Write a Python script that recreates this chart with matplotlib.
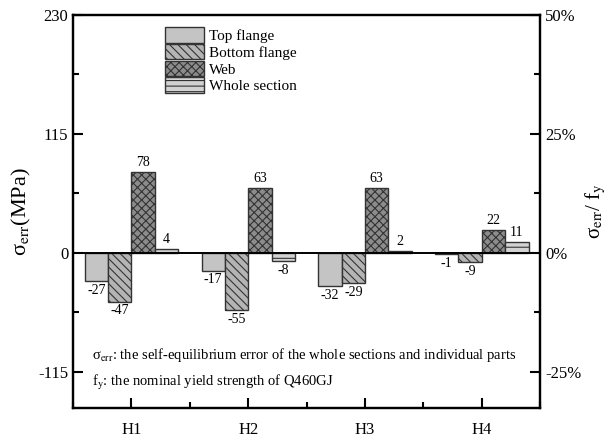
import numpy as np
import matplotlib
matplotlib.use('Agg')
import matplotlib.pyplot as plt
from matplotlib.ticker import FuncFormatter, MultipleLocator

plt.rcParams['font.family'] = ['Liberation Serif', 'DejaVu Serif']
plt.rcParams['mathtext.fontset'] = 'stix'
plt.rcParams['hatch.linewidth'] = 0.8
plt.rcParams['axes.unicode_minus'] = False

# data
groups = ['H1', 'H2', 'H3', 'H4']
series = ['Top flange', 'Bottom flange', 'Web', 'Whole section']
top_flange = [-27, -17, -32, -1]
bottom_flange = [-47, -55, -29, -9]
web = [78, 63, 63, 22]
whole_section = [4, -8, 2, 11]
fy = 460.0

values = [top_flange, bottom_flange, web, whole_section]
faces = ['#c4c4c4', '#b4b4b4', '#8c8c8c', '#d2d2d2']
hatches = [None, '\\\\\\\\', 'xxxx', '---']

fig = plt.figure(figsize=(6.09, 4.37), dpi=100)
ax = fig.add_axes([0.12, 0.066, 0.767, 0.900])

x = np.arange(1, len(groups) + 1)
w = 0.2
for i in range(len(series)):
    pos = x + (i - 1.5) * w
    ax.bar(pos, values[i], w, color=faces[i], edgecolor='#333333',
           hatch=hatches[i], linewidth=1.0, label=series[i])
    for p, v in zip(pos, values[i]):
        if v >= 0:
            ax.annotate(str(v), (p, v), xytext=(0, 2), textcoords='offset points',
                        ha='center', va='bottom', fontsize=10)
        else:
            ax.annotate(str(v), (p, v), xytext=(0, -2), textcoords='offset points',
                        ha='center', va='top', fontsize=10)

ax.axhline(0, color='black', linewidth=1.4, zorder=3)

ax.set_xlim(0.5, 4.5)
ax.set_ylim(-150, 230)
ax.set_xticks(x)
ax.set_xticklabels(groups)
ax.xaxis.set_minor_locator(MultipleLocator(0.5))
ax.set_yticks([-115, 0, 115, 230])
ax.yaxis.set_minor_locator(MultipleLocator(57.5))
ax.tick_params(which='both', direction='in', labelsize=12, width=1.5, top=False)
ax.tick_params(which='major', length=7)
ax.tick_params(which='minor', length=4)
ax.tick_params(axis='x', pad=10)
ax.set_ylabel('σ$_{\\rm err}$(MPa)', fontsize=16)
for s in ax.spines.values():
    s.set_linewidth(1.6)

ax2 = ax.twinx()
ax2.set_ylim(-150 / fy * 100, 230 / fy * 100)
ax2.set_yticks([-25, 0, 25, 50])
ax2.yaxis.set_minor_locator(MultipleLocator(12.5))
ax2.yaxis.set_major_formatter(FuncFormatter(lambda v, p: '%d%%' % v))
ax2.tick_params(which='both', direction='in', labelsize=12, width=1.5)
ax2.tick_params(which='major', length=7)
ax2.tick_params(which='minor', length=4)
ax2.set_ylabel('σ$_{\\rm err}$/ f$_{\\rm y}$', fontsize=15, labelpad=2)
for s in ax2.spines.values():
    s.set_linewidth(1.6)

ax.legend(loc='upper left', bbox_to_anchor=(0.17, 1.0), frameon=False,
          fontsize=11, handlelength=2.6, handleheight=1.2,
          labelspacing=0.05, handletextpad=0.3, borderpad=0.3)

ax.text(0.04, 0.135, 'σ$_{\\rm err}$: the self-equilibrium error of the whole sections and individual parts',
        transform=ax.transAxes, fontsize=10.5, va='center')
ax.text(0.04, 0.065, 'f$_{\\rm y}$: the nominal yield strength of Q460GJ',
        transform=ax.transAxes, fontsize=10.5, va='center')

plt.savefig('out.png', dpi=100)
